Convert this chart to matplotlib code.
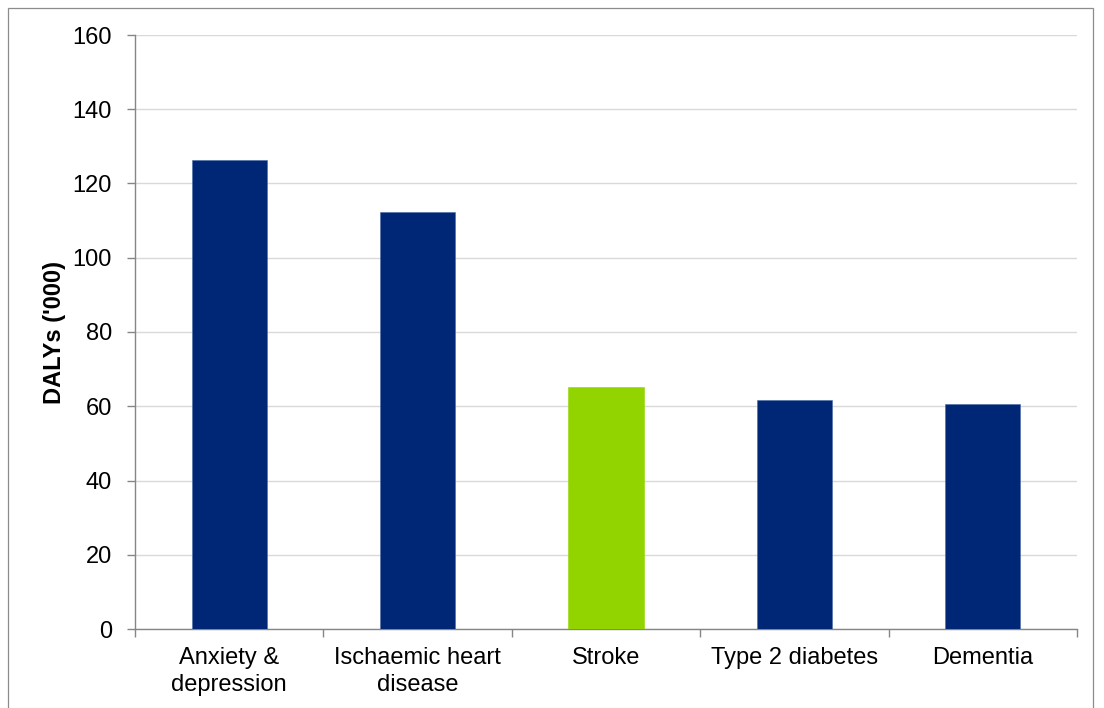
import matplotlib
matplotlib.use("Agg")
import matplotlib.pyplot as plt
from matplotlib.patches import Rectangle
import numpy as np

categories = ["Anxiety &\ndepression", "Ischaemic heart\ndisease", "Stroke",
              "Type 2 diabetes", "Dementia"]
dalys = [126.4, 112.4, 65.3, 61.7, 60.7]
bar_colors = ["#002776", "#002776", "#92D400", "#002776", "#002776"]
y_ticks = [0, 20, 40, 60, 80, 100, 120, 140, 160]

plt.rcParams["font.family"] = ["Liberation Sans", "DejaVu Sans"]

fig = plt.figure(figsize=(11.04, 7.08), dpi=100)
ax = fig.add_axes([135 / 1104, 1 - 629 / 708, (1077 - 135) / 1104, (629 - 35) / 708])

# thin outer frame around the chart area
fig.patches.append(Rectangle((8 / 1104, -0.05), (1093 - 8) / 1104, 1.05 - 8 / 708,
                             transform=fig.transFigure, fill=False,
                             edgecolor="#8C8C8C", linewidth=0.9))

x = np.arange(len(categories))
ax.bar(x, dalys, width=0.40, color=bar_colors, edgecolor="#4A6AA8", linewidth=0.4,
       zorder=3)
for p, c in zip(ax.patches, bar_colors):
    if c != "#002776":
        p.set_edgecolor(c)

ax.set_xlim(-0.5, len(categories) - 0.5)
ax.set_ylim(0, 160)
ax.set_yticks(y_ticks)
ax.yaxis.grid(True, color="#D9D9D9", linewidth=1.0, zorder=0)
ax.set_axisbelow(True)

ax.set_xticks(x)
ax.set_xticklabels(categories, fontsize=17, linespacing=1.3)
ax.set_xticks(np.arange(-0.5, len(categories)), minor=True)
ax.tick_params(axis="x", which="major", length=0, pad=13)
ax.tick_params(axis="x", which="minor", length=5.8, color="#868686", width=1)
ax.tick_params(axis="y", length=5.8, color="#868686", width=1, labelsize=17, pad=10.8)

for side in ("top", "right"):
    ax.spines[side].set_visible(False)
for side in ("left", "bottom"):
    ax.spines[side].set_color("#868686")
    ax.spines[side].set_linewidth(1.0)

ax.set_ylabel("DALYs ('000)", fontsize=17, fontweight="bold", va="center")
ax.yaxis.set_label_coords((55 - 135) / 942, 0.5)

fig.savefig("out.png", dpi=100, facecolor="white")
